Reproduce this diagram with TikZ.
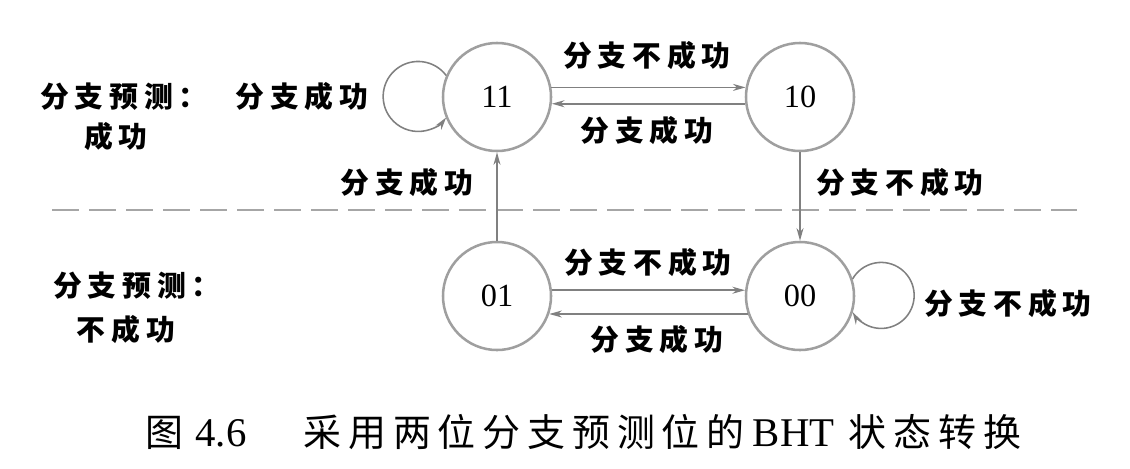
\documentclass[tikz,border=0pt]{standalone}
\usepackage{fontspec}
\setmainfont{Liberation Serif}
\newfontfamily\cjk[LetterSpace=20]{Noto Sans CJK SC}
\newfontfamily\capcjk[LetterSpace=18]{Noto Sans CJK SC}
\usepackage{tikz}
\usetikzlibrary{arrows.meta,positioning}

\begin{document}
\begin{tikzpicture}[x=0.025cm, y=0.025cm,
  state/.style={circle, draw=gray!75, line width=1.8pt, minimum size=2.7cm,
                inner sep=0pt, font=\fontsize{23}{26}\selectfont},
  lbl/.style={font=\cjk\bfseries\fontsize{20.5}{24}\selectfont, inner sep=0pt},
  arr/.style={-{Stealth[length=9pt, width=5pt]}, gray, line width=1.1pt},
  sep/.style={gray!70, line width=1.2pt, dash pattern=on 0.675cm off 0.25cm}
]
\useasboundingbox (0,0) rectangle (1130,-468);

%% States
\node[state] (s11) at (497,-97) {11};
\node[state] (s10) at (800,-97) {10};
\node[state] (s01) at (497,-296) {01};
\node[state] (s00) at (800,-296) {00};

%% Separator between the two prediction halves
\coordinate (sepL) at (52,-210);
\coordinate (sepR) at (1077,-210);
\draw[sep] (sepL) -- (sepR);

%% Transitions
\draw[arr] (s11.10) -- (s10.170);
\draw[arr] (s10.-173) -- (s11.-7);
\draw[arr] (s01.6) -- (s00.174);
\draw[arr] (s00.-161) -- (s01.-19);
\draw[arr] (s01.north) -- (s11.south);
\draw[arr] (s10.south) -- (s00.north);

%% Self loops
\draw[arr] (s11.157) arc[start angle=37, end angle=323, radius=35];
\draw[arr] (s00.18) arc[start angle=150, end angle=-150, radius=33];

%% Transition labels
\node[lbl] (t1) at (647,-56) {分支不成功};
\node[lbl] (t2) at (647,-131) {分支成功};
\node[lbl] (t3) at (648,-263) {分支不成功};
\node[lbl] (t4) at (657,-340) {分支成功};
\node[lbl] (t5) at (407,-183) {分支成功};
\node[lbl] (t6) at (900,-183) {分支不成功};
\node[lbl] (t7) at (302,-97) {分支成功};
\node[lbl, anchor=west] (t8) at (924,-304) {分支不成功};

%% Region labels
\node[lbl, anchor=west] (p1) at (40,-97) {分支预测：};
\node[lbl] (p2) at (116,-137) {成功};
\node[lbl, anchor=west] (p3) at (53,-286) {分支预测：};
\node[lbl] (p4) at (126,-330) {不成功};

%% Caption
\node[inner sep=0pt, anchor=west, font=\fontsize{29}{34}\selectfont] (cap) at (145,-432)
  {{\fontsize{27}{34}\selectfont\capcjk 图}\hspace{0.3em}4.6\hspace{1.4em}{\fontsize{27}{34}\selectfont\capcjk 采用两位分支预测位的}\hspace{0.2em}BHT\hspace{0.35em}{\fontsize{27}{34}\selectfont\capcjk 状态转换}};

\end{tikzpicture}
\end{document}
